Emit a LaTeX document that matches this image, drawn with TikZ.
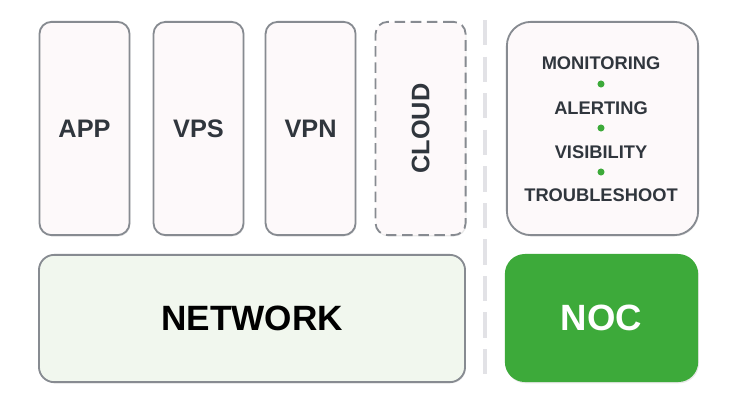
\documentclass[tikz,border=0pt]{standalone}
\usepackage{fontspec}
\setmainfont{Liberation Sans}
\usetikzlibrary{positioning,shadows}

\definecolor{boxfill}{HTML}{FDF9FA}
\definecolor{boxline}{HTML}{878B91}
\definecolor{netfill}{HTML}{F1F7EE}
\definecolor{nocgreen}{HTML}{3DAA3A}
\definecolor{textdark}{HTML}{30363D}
\definecolor{sepgray}{HTML}{E2E2E6}

\begin{document}
\begin{tikzpicture}[
    x=0.025cm, y=-0.025cm,
    node distance=0.55cm,
    shade/.style={drop shadow={opacity=0.18,shadow xshift=0.6pt,shadow yshift=-0.9pt}},
    service/.style={rectangle,rounded corners=0.3cm,draw=boxline,line width=1.3pt,fill=boxfill,shade,
        minimum width=2.25cm,minimum height=5.33cm,inner sep=0pt,outer sep=0pt,
        font=\bfseries\fontsize{18}{20}\selectfont,text=textdark},
    cloudbox/.style={service,dash pattern=on 7.5pt off 4pt},
    tasks/.style={rectangle,rounded corners=0.6cm,draw=boxline,line width=1.3pt,fill=boxfill,shade,
        minimum width=4.78cm,minimum height=5.33cm,inner sep=0pt,outer sep=0pt},
    item/.style={font=\bfseries\fontsize{13}{15}\selectfont,text=textdark,inner sep=0pt},
    dot/.style={circle,fill=nocgreen,minimum size=5pt,inner sep=0pt},
    network/.style={rectangle,rounded corners=0.38cm,draw=boxline,line width=1.3pt,fill=netfill,shade,
        minimum width=10.65cm,minimum height=3.18cm,inner sep=0pt,outer sep=0pt,
        font=\bfseries\fontsize{25}{28}\selectfont,text=black},
    noc/.style={rectangle,rounded corners=0.5cm,fill=nocgreen,shade,
        minimum width=4.83cm,minimum height=3.2cm,inner sep=0pt,outer sep=0pt,
        font=\bfseries\fontsize{26}{28}\selectfont,text=white},
    separator/.style={sepgray,line width=2.2pt,dash pattern=on 18pt off 8pt}
]
\useasboundingbox (0,0) rectangle (740,409);

% top row of services
\node[service] (app) at (84.5,128.5) {APP};
\node[service, right=0.6cm of app] (vps) {VPS};
\node[service, right=0.55cm of vps] (vpn) {VPN};
\node[cloudbox, right=0.5cm of vpn] (cloud) {\rotatebox{90}{CLOUD}};

% network bar
\node[network] (net) at (252,318.5) {NETWORK};

% separator
\coordinate (septop) at (485,20);
\coordinate (sepbot) at (485,384);
\draw[separator] (septop) -- (sepbot);

% NOC tasks
\node[tasks] (tasks) at (602.5,128.5) {};
\node[item] (mon) at (601,63) {MONITORING};
\node[dot] (d1) at (601,84) {};
\node[item] (alert) at (601,108) {ALERTING};
\node[dot] (d2) at (601,128) {};
\node[item] (vis) at (601,152) {VISIBILITY};
\node[dot] (d3) at (601,172) {};
\node[item] (trouble) at (601,195) {TROUBLESHOOT};

% NOC
\node[noc] (nocbox) at (601.5,318) {NOC};

\end{tikzpicture}
\end{document}
